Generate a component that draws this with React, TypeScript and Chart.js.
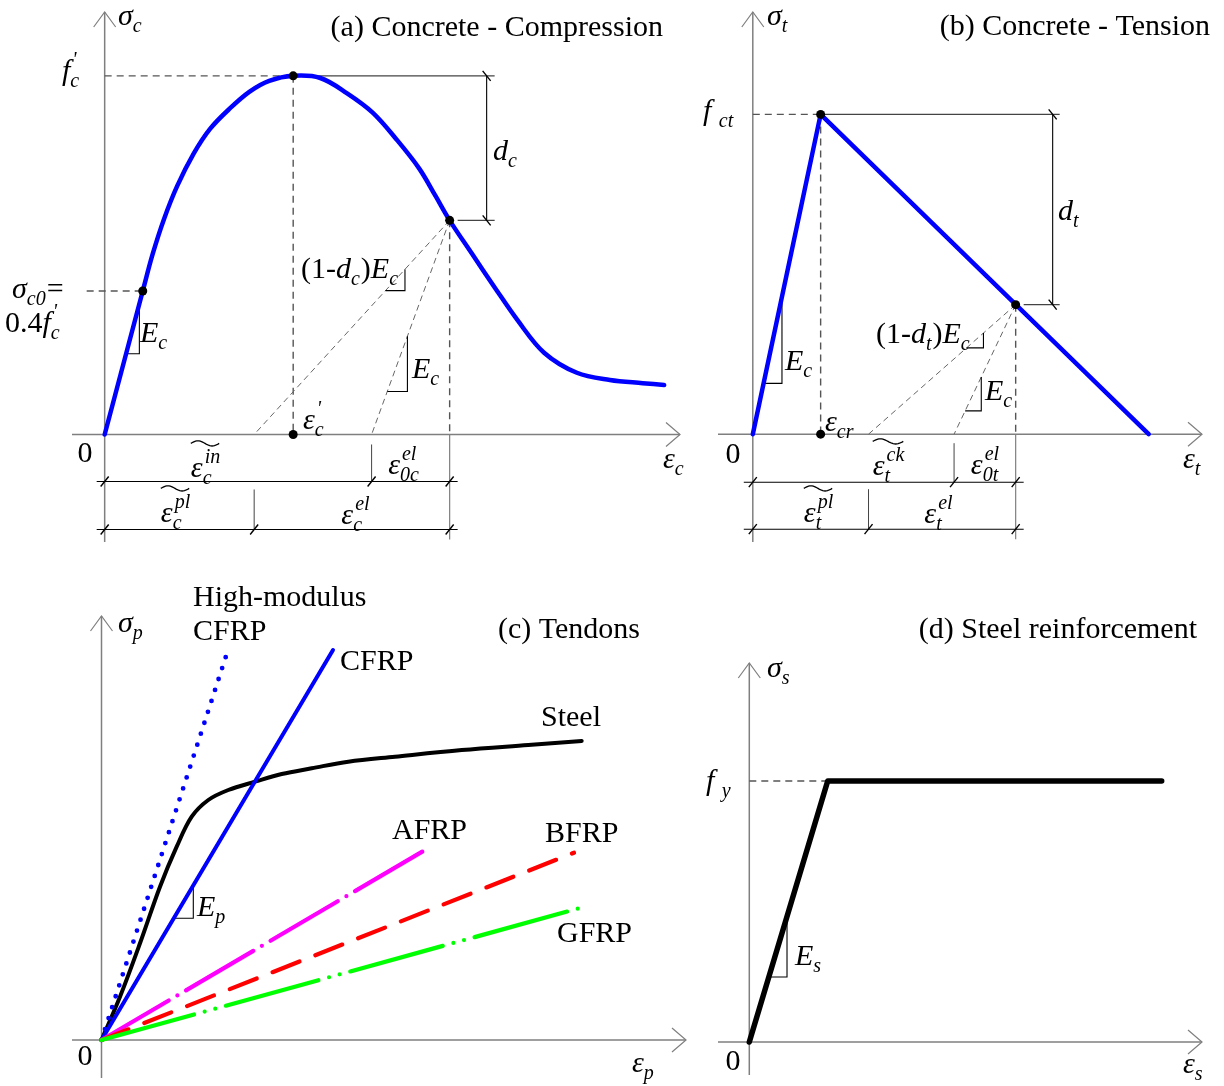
import React, { useEffect, useRef } from "react";
import { Chart, registerables } from "chart.js";

Chart.register(...registerables);

const SERIF = '"Liberation Serif", "Times New Roman", Times, serif';
const FONT_SIZE = 30;
const AXIS = "#7f7f7f";
const GUIDE = "#555555";
const BLUE = "#0000ff";

// ---------- (a) Concrete - compression (strain / ε'c, stress / f'c) ----------
const compStrain = [0, 0.202, 0.254, 0.315, 0.385, 0.472, 0.559, 0.664, 0.769, 0.873, 1.0, 1.144, 1.284, 1.423, 1.546, 1.668, 1.755, 1.83, 1.947, 2.069, 2.191, 2.331, 2.505, 2.68, 2.854, 2.968];
const compStress = [0, 0.4, 0.502, 0.601, 0.693, 0.783, 0.852, 0.909, 0.956, 0.986, 1.0, 0.994, 0.952, 0.897, 0.824, 0.742, 0.665, 0.597, 0.505, 0.41, 0.318, 0.228, 0.172, 0.152, 0.143, 0.138];
const compPeak = [1.0, 1.0]; // ε'c, f'c
const compInitial = [0.202, 0.4]; // σc0 = 0.4 f'c
const compDamage = [1.83, 0.597];
const compPlasticStrain = 0.793;
const compInelasticStrain = 1.416;

// ---------- (b) Concrete - tension (strain / εcr, stress / fct) ----------
const tenStrain = [0, 1, 5.836];
const tenStress = [0, 1, 0];
const tenPeak = [1, 1];
const tenDamage = [3.875, 0.405];
const tenPlasticStrain = 1.706;
const tenCrackStrain = 2.967;

// ---------- (c) Tendons ----------
const hmCfrpStrain = [0, 1.265];
const hmCfrpStress = [0, 3.9];
const cfrpStrain = [0, 2.315];
const cfrpStress = [0, 3.9];
const afrpStrain = [0, 3.235];
const afrpStress = [0, 1.9];
const bfrpStrain = [0, 4.725];
const bfrpStress = [0, 1.873];
const gfrpStrain = [0, 4.812];
const gfrpStress = [0, 1.327];
const steelStrain = [0, 0.185, 0.385, 0.585, 0.752, 0.902, 1.068, 1.268, 1.535, 1.802, 2.102, 2.468, 2.935, 3.602, 4.268, 4.802];
const steelStress = [0, 0.433, 0.967, 1.533, 1.933, 2.233, 2.4, 2.5, 2.583, 2.66, 2.717, 2.783, 2.833, 2.9, 2.95, 2.99];

// ---------- (d) Steel reinforcement (strain / εy, stress / fy) ----------
const rebarStrain = [0, 1, 5.26];
const rebarStress = [0, 1, 1];

type Tok = { t?: string; i?: boolean; sub?: string; sup?: string };
const it = (t: string): Tok => ({ t, i: true });
const rm = (t: string): Tok => ({ t });
const ss = (sub?: string, sup?: string): Tok => ({ sub, sup });

function rich(
  ctx: CanvasRenderingContext2D,
  toks: Tok[],
  x: number,
  y: number,
  align: "left" | "center" | "right" = "left",
  tilde = false,
  size = FONT_SIZE
) {
  const small = Math.round(size * 0.67);
  const font = (italic: boolean, s: number) => `${italic ? "italic " : ""}${s}px ${SERIF}`;
  const widths = toks.map((tk) => {
    if (tk.t !== undefined) {
      ctx.font = font(!!tk.i, size);
      return ctx.measureText(tk.t).width;
    }
    ctx.font = font(true, small);
    return Math.max(tk.sub ? ctx.measureText(tk.sub).width : 0, tk.sup ? ctx.measureText(tk.sup).width : 0) + 1;
  });
  const total = widths.reduce((a, b) => a + b, 0);
  let cx = align === "center" ? x - total / 2 : align === "right" ? x - total : x;
  const x0 = cx;
  ctx.save();
  ctx.fillStyle = "#000";
  ctx.textAlign = "left";
  ctx.textBaseline = "alphabetic";
  toks.forEach((tk, k) => {
    if (tk.t !== undefined) {
      ctx.font = font(!!tk.i, size);
      ctx.fillText(tk.t, cx, y);
    } else {
      ctx.font = font(true, small);
      if (tk.sub) ctx.fillText(tk.sub, cx, y + size * 0.24);
      if (tk.sup) ctx.fillText(tk.sup, cx + 2, y - size * 0.48);
    }
    cx += widths[k];
  });
  if (tilde) {
    const w = cx - x0;
    const ty = y - size * 1.12;
    ctx.beginPath();
    for (let s = 0; s <= 24; s++) {
      const t = s / 24;
      const px = x0 + t * w;
      const py = ty - 2.6 * Math.sin(2 * Math.PI * t);
      if (s === 0) ctx.moveTo(px, py);
      else ctx.lineTo(px, py);
    }
    ctx.strokeStyle = "#000";
    ctx.lineWidth = 1.3;
    ctx.stroke();
  }
  ctx.restore();
}

function seg(ctx: CanvasRenderingContext2D, x1: number, y1: number, x2: number, y2: number, color: string, width: number, dash: number[] = []) {
  ctx.save();
  ctx.beginPath();
  ctx.setLineDash(dash);
  ctx.moveTo(x1, y1);
  ctx.lineTo(x2, y2);
  ctx.strokeStyle = color;
  ctx.lineWidth = width;
  ctx.stroke();
  ctx.restore();
}

function poly(ctx: CanvasRenderingContext2D, pts: number[][], color: string, width: number) {
  ctx.save();
  ctx.beginPath();
  pts.forEach(([x, y], i) => (i ? ctx.lineTo(x, y) : ctx.moveTo(x, y)));
  ctx.strokeStyle = color;
  ctx.lineWidth = width;
  ctx.lineJoin = "miter";
  ctx.stroke();
  ctx.restore();
}

const arrowUp = (ctx: CanvasRenderingContext2D, x: number, y: number) =>
  poly(ctx, [[x - 11, y + 15], [x, y], [x + 11, y + 15]], AXIS, 1.2);
const arrowRight = (ctx: CanvasRenderingContext2D, x: number, y: number) =>
  poly(ctx, [[x - 14, y - 12], [x, y], [x - 14, y + 12]], AXIS, 1.2);
const tickH = (ctx: CanvasRenderingContext2D, x: number, y: number) => seg(ctx, x - 4, y + 5, x + 4, y - 5, "#000", 1.4);
const tickV = (ctx: CanvasRenderingContext2D, x: number, y: number) => seg(ctx, x - 4, y - 5, x + 4, y + 5, "#000", 1.4);

type Conv = (v: number) => number;

// slope marker: corner (cx, cy) under a line through p0 and p1 (data units)
function slopeMark(ctx: CanvasRenderingContext2D, X: Conv, Y: Conv, p0: number[], p1: number[], corner: number[]) {
  const k = (p1[1] - p0[1]) / (p1[0] - p0[0]);
  const xl = p0[0] + (corner[1] - p0[1]) / k;
  const yt = p0[1] + (corner[0] - p0[0]) * k;
  poly(ctx, [[X(xl), Y(corner[1])], [X(corner[0]), Y(corner[1])], [X(corner[0]), Y(yt)]], "#000", 1.1);
}

function curve(xs: number[], ys: number[], color: string, width: number, extra: Record<string, unknown> = {}) {
  return {
    data: xs.map((x, i) => ({ x, y: ys[i] })),
    showLine: true,
    pointRadius: 0,
    borderColor: color,
    borderWidth: width,
    borderJoinStyle: "round",
    borderCapStyle: "round",
    fill: false,
    ...extra,
  };
}

function dots(pts: number[][]) {
  return {
    data: pts.map(([x, y]) => ({ x, y })),
    showLine: false,
    pointRadius: 4.5,
    pointBackgroundColor: "#000",
    pointBorderColor: "#000",
    pointBorderWidth: 0,
  };
}

type Box = { left: number; top: number; width: number; height: number };
type Panel = {
  box: Box;
  origin: [number, number];
  unit: [number, number];
  datasets: any[];
  back: (ctx: CanvasRenderingContext2D, X: Conv, Y: Conv) => void;
  front: (ctx: CanvasRenderingContext2D, X: Conv, Y: Conv) => void;
};

const panelA: Panel = {
  box: { left: 0, top: 0, width: 690, height: 560 },
  origin: [101.5, 437],
  unit: [191, 364.5],
  datasets: [
    dots([compPeak, compInitial, compDamage, [compPeak[0], 0]]),
    curve(compStrain, compStress, BLUE, 4.5, { tension: 0.35 }),
  ],
  back: (ctx, X, Y) => {
    const ax = X(0);
    const ay = Y(0);
    const [px, py] = compPeak;
    const [dx, dy] = compDamage;
    seg(ctx, ax, 12, ax, 542, AXIS, 1.5);
    arrowUp(ctx, ax, 12);
    seg(ctx, 72, ay, 680, ay, AXIS, 1.5);
    arrowRight(ctx, 680, ay);
    seg(ctx, ax, Y(py), X(px), Y(py), GUIDE, 1.4, [7, 5]);
    seg(ctx, X(px), Y(py), X(px), ay, GUIDE, 1.4, [7, 5]);
    seg(ctx, ax - 18, Y(compInitial[1]), X(compInitial[0]), Y(compInitial[1]), GUIDE, 1.4, [7, 5]);
    seg(ctx, X(dx), Y(dy), X(dx), ay, GUIDE, 1.4, [7, 5]);
    seg(ctx, X(dx), Y(dy), X(compPlasticStrain), ay, "#666", 1, [6, 4]);
    seg(ctx, X(dx), Y(dy), X(compInelasticStrain), ay, "#666", 1, [6, 4]);
    // damage dimension
    const dimX = X(dx) + 37;
    seg(ctx, X(px), Y(py), dimX + 8, Y(py), "#444", 1.1);
    seg(ctx, X(dx) + 8, Y(dy), dimX + 8, Y(dy), "#444", 1.1);
    seg(ctx, dimX, Y(py), dimX, Y(dy), "#000", 1.1);
    tickV(ctx, dimX, Y(py));
    tickV(ctx, dimX, Y(dy));
    // strain decomposition
    const d1 = ay + 47;
    const d2 = ay + 95;
    seg(ctx, X(dx), ay, X(dx), ay + 105, AXIS, 1.2);
    seg(ctx, X(compInelasticStrain), ay + 10, X(compInelasticStrain), d1, "#444", 1);
    seg(ctx, X(compPlasticStrain), d1 + 8, X(compPlasticStrain), d2, "#444", 1);
    seg(ctx, ax - 8, d1, X(dx) + 8, d1, "#000", 1.1);
    [0, compInelasticStrain, dx].forEach((v) => tickH(ctx, X(v), d1));
    seg(ctx, ax - 8, d2, X(dx) + 8, d2, "#000", 1.1);
    [0, compPlasticStrain, dx].forEach((v) => tickH(ctx, X(v), d2));
    slopeMark(ctx, X, Y, [0, 0], compInitial, [0.184, 0.225]);
    slopeMark(ctx, X, Y, [compPlasticStrain, 0], compDamage, [1.593, 0.401]);
    slopeMark(ctx, X, Y, [compInelasticStrain, 0], compDamage, [1.606, 0.12]);
  },
  front: (ctx, X, Y) => {
    rich(ctx, [it("σ"), ss("c")], 118, 25);
    rich(ctx, [rm("(a) Concrete - Compression")], 663, 36, "right");
    rich(ctx, [it("f"), ss("c", "'")], 62, 80);
    const c0y = Y(compInitial[1]);
    rich(ctx, [it("σ"), ss("c0"), rm("=")], 12, c0y + 7);
    rich(ctx, [rm("0.4"), it("f"), ss("c", "'")], 5, c0y + 41);
    rich(ctx, [it("E"), ss("c")], 140, 342);
    rich(ctx, [rm("(1-"), it("d"), ss("c"), rm(")"), it("E"), ss("c")], 301, 278);
    rich(ctx, [it("E"), ss("c")], 412, 378);
    rich(ctx, [it("d"), ss("c")], 493, 160);
    rich(ctx, [it("ε"), ss("c", "'")], 303, 429);
    rich(ctx, [rm("0")], 85, 462, "center");
    rich(ctx, [it("ε"), ss("c")], 663, 468);
    rich(ctx, [it("ε"), ss("c", "in")], 205, 477, "center", true);
    rich(ctx, [it("ε"), ss("0c", "el")], 404, 474, "center");
    rich(ctx, [it("ε"), ss("c", "pl")], 175, 522, "center", true);
    rich(ctx, [it("ε"), ss("c", "el")], 355, 524, "center");
  },
};

const panelB: Panel = {
  box: { left: 690, top: 0, width: 534, height: 560 },
  origin: [749.3, 436.7],
  unit: [69, 325],
  datasets: [dots([tenPeak, tenDamage, [tenPeak[0], 0]]), curve(tenStrain, tenStress, BLUE, 4.5)],
  back: (ctx, X, Y) => {
    const ax = X(0);
    const ay = Y(0);
    const [px, py] = tenPeak;
    const [dx, dy] = tenDamage;
    seg(ctx, ax, 12, ax, 542, AXIS, 1.5);
    arrowUp(ctx, ax, 12);
    seg(ctx, 718, ay, 1202, ay, AXIS, 1.5);
    arrowRight(ctx, 1202, ay);
    seg(ctx, ax, Y(py), X(px), Y(py), GUIDE, 1.4, [7, 5]);
    seg(ctx, X(px), Y(py), X(px), ay, GUIDE, 1.4, [7, 5]);
    seg(ctx, X(dx), Y(dy), X(dx), ay, GUIDE, 1.4, [7, 5]);
    seg(ctx, X(dx), Y(dy), X(tenPlasticStrain), ay, "#666", 1, [6, 4]);
    seg(ctx, X(dx), Y(dy), X(tenCrackStrain), ay, "#666", 1, [6, 4]);
    const dimX = X(dx) + 37;
    seg(ctx, X(px), Y(py), dimX + 7, Y(py), "#444", 1.1);
    seg(ctx, X(dx) + 8, Y(dy), dimX + 7, Y(dy), "#444", 1.1);
    seg(ctx, dimX, Y(py), dimX, Y(dy), "#000", 1.1);
    tickV(ctx, dimX, Y(py));
    tickV(ctx, dimX, Y(dy));
    const d1 = ay + 48;
    const d2 = ay + 95;
    seg(ctx, X(dx), ay, X(dx), ay + 105, AXIS, 1.2);
    seg(ctx, X(tenCrackStrain), ay + 9, X(tenCrackStrain), d1, "#444", 1);
    seg(ctx, X(tenPlasticStrain), d1 + 7, X(tenPlasticStrain), d2, "#444", 1);
    seg(ctx, ax - 9, d1, X(dx) + 8, d1, "#000", 1.1);
    [0, tenCrackStrain, dx].forEach((v) => tickH(ctx, X(v), d1));
    seg(ctx, ax - 9, d2, X(dx) + 8, d2, "#000", 1.1);
    [0, tenPlasticStrain, dx].forEach((v) => tickH(ctx, X(v), d2));
    slopeMark(ctx, X, Y, [0, 0], tenPeak, [0.43, 0.159]);
    slopeMark(ctx, X, Y, [tenPlasticStrain, 0], tenDamage, [3.4, 0.27]);
    slopeMark(ctx, X, Y, [tenCrackStrain, 0], tenDamage, [3.368, 0.073]);
  },
  front: (ctx) => {
    rich(ctx, [it("σ"), ss("t")], 767, 25);
    rich(ctx, [rm("(b) Concrete - Tension")], 1210, 35, "right");
    rich(ctx, [it("f"), rm(" "), ss("ct")], 703, 120);
    rich(ctx, [it("d"), ss("t")], 1058, 220);
    rich(ctx, [it("E"), ss("c")], 785, 370);
    rich(ctx, [rm("(1-"), it("d"), ss("t"), rm(")"), it("E"), ss("c")], 876, 343);
    rich(ctx, [it("E"), ss("c")], 985, 400);
    rich(ctx, [it("ε"), ss("cr")], 825, 431);
    rich(ctx, [rm("0")], 733, 463, "center");
    rich(ctx, [it("ε"), ss("t")], 1183, 468);
    rich(ctx, [it("ε"), ss("t", "ck")], 888, 475, "center", true);
    rich(ctx, [it("ε"), ss("0t", "el")], 985, 474, "center");
    rich(ctx, [it("ε"), ss("t", "pl")], 818, 522, "center", true);
    rich(ctx, [it("ε"), ss("t", "el")], 938, 523, "center");
  },
};

const panelC: Panel = {
  box: { left: 0, top: 560, width: 700, height: 526 },
  origin: [101.5, 1040],
  unit: [100, 100],
  datasets: [
    curve(gfrpStrain, gfrpStress, "#00ff00", 4.2, { borderDash: [96, 11, 0, 11, 0, 11] }),
    curve(bfrpStrain, bfrpStress, "#ff0000", 4.2, { borderDash: [29, 17] }),
    curve(afrpStrain, afrpStress, "#ff00ff", 4.2, { borderDash: [78, 10, 0, 10] }),
    curve(cfrpStrain, cfrpStress, BLUE, 4),
    curve(hmCfrpStrain, hmCfrpStress, BLUE, 4.8, { borderDash: [0, 11.5] }),
    curve(steelStrain, steelStress, "#000", 4, { tension: 0.35 }),
  ],
  back: (ctx, X, Y) => {
    const ax = X(0);
    const ay = Y(0);
    seg(ctx, ax, 616, ax, 1078, AXIS, 1.5);
    arrowUp(ctx, ax, 616);
    seg(ctx, 72, ay, 686, ay, AXIS, 1.5);
    arrowRight(ctx, 686, ay);
    slopeMark(ctx, X, Y, [0, 0], [cfrpStrain[1], cfrpStress[1]], [0.918, 1.217]);
  },
  front: (ctx) => {
    rich(ctx, [it("σ"), ss("p")], 118, 632);
    rich(ctx, [rm("(c) Tendons")], 640, 638, "right");
    rich(ctx, [rm("High-modulus")], 193, 606);
    rich(ctx, [rm("CFRP")], 193, 640);
    rich(ctx, [rm("CFRP")], 340, 670);
    rich(ctx, [rm("Steel")], 541, 726);
    rich(ctx, [rm("AFRP")], 392, 839);
    rich(ctx, [rm("BFRP")], 545, 842);
    rich(ctx, [rm("GFRP")], 557, 942);
    rich(ctx, [it("E"), ss("p")], 197, 916);
    rich(ctx, [rm("0")], 85, 1065, "center");
    rich(ctx, [it("ε"), ss("p")], 632, 1072);
  },
};

const panelD: Panel = {
  box: { left: 700, top: 560, width: 524, height: 526 },
  origin: [749.3, 1042],
  unit: [78.4, 261],
  datasets: [curve(rebarStrain, rebarStress, "#000", 5.5, { borderCapStyle: "round" })],
  back: (ctx, X, Y) => {
    const ax = X(0);
    const ay = Y(0);
    seg(ctx, ax, 663, ax, 1075, AXIS, 1.5);
    arrowUp(ctx, ax, 663);
    seg(ctx, 718, ay, 1202, ay, AXIS, 1.5);
    arrowRight(ctx, 1202, ay);
    seg(ctx, ax, Y(rebarStress[1]), X(rebarStrain[1]), Y(rebarStress[1]), GUIDE, 1.4, [7, 5]);
    slopeMark(ctx, X, Y, [0, 0], [rebarStrain[1], rebarStress[1]], [0.481, 0.249]);
  },
  front: (ctx) => {
    rich(ctx, [rm("(d) Steel reinforcement")], 1197, 638, "right");
    rich(ctx, [it("σ"), ss("s")], 767, 677);
    rich(ctx, [it("f"), rm(" "), ss("y")], 706, 790);
    rich(ctx, [it("E"), ss("s")], 795, 965);
    rich(ctx, [rm("0")], 733, 1070, "center");
    rich(ctx, [it("ε"), ss("s")], 1183, 1073);
  },
};

function PanelChart({ panel }: { panel: Panel }) {
  const ref = useRef<HTMLCanvasElement>(null);
  const { box } = panel;
  useEffect(() => {
    const canvas = ref.current;
    if (!canvas) return;
    const lx = panel.origin[0] - box.left;
    const ly = panel.origin[1] - box.top;
    const [sx, sy] = panel.unit;
    const chart = new Chart(canvas, {
      type: "scatter",
      data: { datasets: panel.datasets as any },
      options: {
        animation: false,
        responsive: false,
        events: [],
        layout: { padding: 0 },
        plugins: { legend: { display: false }, tooltip: { enabled: false }, title: { display: false } },
        scales: {
          x: { type: "linear", display: false, min: -lx / sx, max: (box.width - lx) / sx },
          y: { type: "linear", display: false, min: -(box.height - ly) / sy, max: ly / sy },
        },
      },
      plugins: [
        {
          id: "stressStrainSketch",
          beforeDatasetsDraw(c: Chart) {
            const ctx = c.ctx;
            const X = (v: number) => c.scales.x.getPixelForValue(v) + box.left;
            const Y = (v: number) => c.scales.y.getPixelForValue(v) + box.top;
            ctx.save();
            ctx.translate(-box.left, -box.top);
            panel.back(ctx, X, Y);
            ctx.restore();
          },
          afterDatasetsDraw(c: Chart) {
            const ctx = c.ctx;
            const X = (v: number) => c.scales.x.getPixelForValue(v) + box.left;
            const Y = (v: number) => c.scales.y.getPixelForValue(v) + box.top;
            ctx.save();
            ctx.translate(-box.left, -box.top);
            panel.front(ctx, X, Y);
            ctx.restore();
          },
        },
      ],
    });
    return () => chart.destroy();
  }, []);
  return (
    <canvas
      ref={ref}
      width={box.width}
      height={box.height}
      style={{ position: "absolute", left: box.left, top: box.top, width: box.width, height: box.height }}
    />
  );
}

export default function App() {
  useEffect(() => {
    document.body.style.margin = "0";
  }, []);
  return (
    <div style={{ position: "absolute", left: 0, top: 0, width: 1224, height: 1086, background: "#fff", overflow: "hidden" }}>
      <PanelChart panel={panelA} />
      <PanelChart panel={panelB} />
      <PanelChart panel={panelC} />
      <PanelChart panel={panelD} />
    </div>
  );
}
